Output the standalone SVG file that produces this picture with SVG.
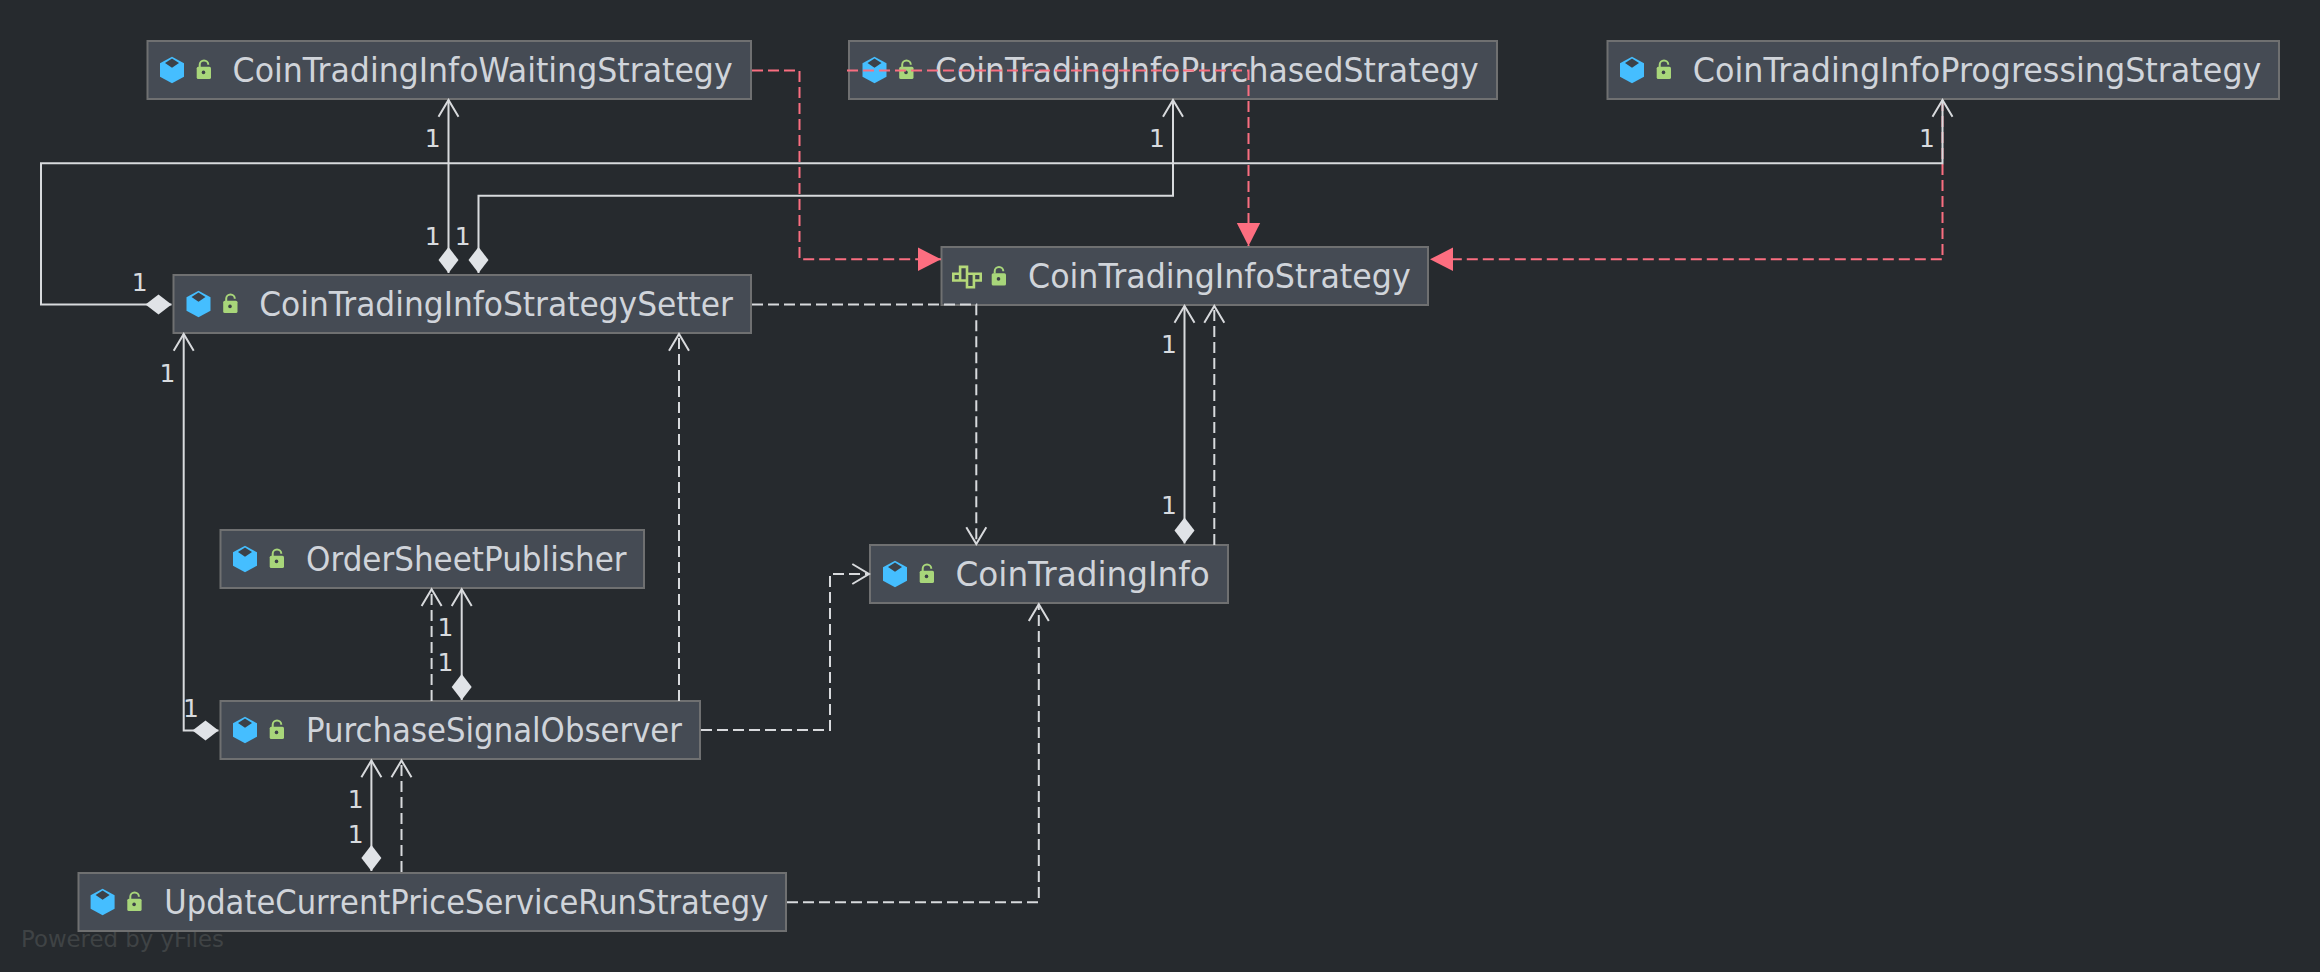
<svg xmlns="http://www.w3.org/2000/svg" width="2320" height="972" viewBox="0 0 2320 972">
<style>
.box{fill:#454b54;stroke:#6f7071;stroke-width:2}
.t{font-family:"DejaVu Sans",sans-serif;font-size:33px;fill:#d0d4da}
.m{font-family:"DejaVu Sans",sans-serif;font-size:25px;fill:#d8dbdf;text-anchor:middle}
.wm{font-family:"DejaVu Sans",sans-serif;font-size:22.5px;fill:#3f4345}
.c{fill:none;stroke-linejoin:miter}
.s{stroke:#d8dadd;stroke-width:2}
.d{stroke:#d8dadd;stroke-width:2;stroke-dasharray:11 5}
.r{stroke:#f96e80;stroke-width:2;stroke-dasharray:11 5}
</style>
<defs>
<marker id="open" markerUnits="userSpaceOnUse" markerWidth="1" markerHeight="1" orient="auto" overflow="visible"><path d="M-16.7 -10 L0 0 L-16.7 10" fill="none" stroke="#d8dadd" stroke-width="2"/></marker>
<marker id="tri" markerUnits="userSpaceOnUse" markerWidth="1" markerHeight="1" orient="auto" overflow="visible"><path d="M-23 -11.7 L0 0 L-23 11.7 Z" fill="#fd6e80"/></marker>
<marker id="dia" markerUnits="userSpaceOnUse" markerWidth="1" markerHeight="1" orient="auto" overflow="visible"><path d="M0 0 L13 -10 L26 0 L13 10 Z" fill="#e0e3e7"/></marker>
<g id="lock">
<rect x="24.7" y="-3.3" width="14.3" height="12.3" rx="1.6" fill="#a8d67a"/>
<path d="M27.7 -3 V-5.3 A4.3 4.3 0 0 1 36.3 -5.3" fill="none" stroke="#a8d67a" stroke-width="2"/>
<circle cx="31.5" cy="2.4" r="1.8" fill="#3c4148"/>
</g>
<g id="cls">
<path d="M0 -13.3 L12 -6.7 V6.7 L0 13.3 L-12 6.7 V-6.7 Z" fill="#45beff"/>
<path d="M-7 -7 L0 -11.5 L7 -7 L0 -2.3 Z" fill="#3c4148"/>
<use href="#lock"/>
</g>
<g id="ifc">
<path d="M-13.7 -2.8 H-6.9 V-9.6 H0 V-2.8 H13.7 V4 H6.9 V10.8 H0 V4 H-13.7 Z M-6.9 -2.8 V4 M0 -2.8 V4 M6.9 -2.8 V4" fill="#3f464c" stroke="#b5d97a" stroke-width="2.6"/>
<use href="#lock"/>
</g>
</defs>
<rect width="2320" height="972" fill="#262a2e"/>
<text class="wm" x="21" y="947" textLength="203" lengthAdjust="spacingAndGlyphs">Powered by yFiles</text>
<g id="nodes">
<g id="CoinTradingInfoWaitingStrategy"><rect class="box" x="147.5" y="41" width="603.5" height="58"/><use href="#cls" x="172" y="70"/><text class="t" x="232.6" y="82" textLength="500" lengthAdjust="spacingAndGlyphs">CoinTradingInfoWaitingStrategy</text></g>
<g id="CoinTradingInfoPurchasedStrategy"><rect class="box" x="849" y="41" width="648" height="58"/><use href="#cls" x="874.5" y="70"/><text class="t" x="935" y="82" textLength="543.6" lengthAdjust="spacingAndGlyphs">CoinTradingInfoPurchasedStrategy</text></g>
<g id="CoinTradingInfoProgressingStrategy"><rect class="box" x="1607.5" y="41" width="671.5" height="58"/><use href="#cls" x="1632" y="70"/><text class="t" x="1692.8" y="82" textLength="568.6" lengthAdjust="spacingAndGlyphs">CoinTradingInfoProgressingStrategy</text></g>
<g id="CoinTradingInfoStrategy"><rect class="box" x="941.5" y="247" width="486.5" height="58"/><use href="#ifc" x="967" y="276.5"/><text class="t" x="1028" y="288" textLength="382.7" lengthAdjust="spacingAndGlyphs">CoinTradingInfoStrategy</text></g>
<g id="CoinTradingInfoStrategySetter"><rect class="box" x="173.5" y="275" width="577.5" height="58"/><use href="#cls" x="198.5" y="304"/><text class="t" x="259.2" y="316" textLength="473.8" lengthAdjust="spacingAndGlyphs">CoinTradingInfoStrategySetter</text></g>
<g id="OrderSheetPublisher"><rect class="box" x="220.5" y="530" width="423.5" height="58"/><use href="#cls" x="245" y="559"/><text class="t" x="306" y="571" textLength="320.5" lengthAdjust="spacingAndGlyphs">OrderSheetPublisher</text></g>
<g id="PurchaseSignalObserver"><rect class="box" x="220.5" y="701" width="479.5" height="58"/><use href="#cls" x="245" y="730"/><text class="t" x="306" y="742" textLength="376" lengthAdjust="spacingAndGlyphs">PurchaseSignalObserver</text></g>
<g id="CoinTradingInfo"><rect class="box" x="870" y="545" width="358" height="58"/><use href="#cls" x="895" y="574"/><text class="t" x="955.5" y="586" textLength="254.3" lengthAdjust="spacingAndGlyphs">CoinTradingInfo</text></g>
<g id="UpdateCurrentPriceServiceRunStrategy"><rect class="box" x="78.5" y="873" width="707.5" height="58"/><use href="#cls" x="102.6" y="902"/><text class="t" x="164.3" y="914" textLength="604" lengthAdjust="spacingAndGlyphs">UpdateCurrentPriceServiceRunStrategy</text></g>
</g>
<g id="connectors">
<g class="c r">
<path d="M752 70.5 H799.5 V259.3 H941" marker-end="url(#tri)"/>
<path d="M847 70.5 H1248.5 V246" marker-end="url(#tri)"/>
<path d="M1942.5 100 V259.3 H1430" marker-end="url(#tri)"/>
</g>
<g class="c d">
<path d="M752 304.5 H976.3 V544" marker-end="url(#open)"/>
<path d="M1214.3 545 V306" marker-end="url(#open)"/>
<path d="M431.6 701 V589.3" marker-end="url(#open)"/>
<path d="M679 701 V334" marker-end="url(#open)"/>
<path d="M401.5 872 V760.5" marker-end="url(#open)"/>
<path d="M701 730 H830 V574 H869" marker-end="url(#open)"/>
<path d="M787 902.3 H1038.8 V604.3" marker-end="url(#open)"/>
</g>
<g class="c s">
<path d="M448.5 273 V100" marker-start="url(#dia)" marker-end="url(#open)"/>
<path d="M478.5 273 V195.7 H1173 V100" marker-start="url(#dia)" marker-end="url(#open)"/>
<path d="M171.5 304.5 H41 V163.3 H1942.5 V100" marker-start="url(#dia)" marker-end="url(#open)"/>
<path d="M218.5 730.5 H183.7 V334" marker-start="url(#dia)" marker-end="url(#open)"/>
<path d="M461.7 700 V589.3" marker-start="url(#dia)" marker-end="url(#open)"/>
<path d="M371.4 871 V760.5" marker-start="url(#dia)" marker-end="url(#open)"/>
<path d="M1184.5 543.5 V306" marker-start="url(#dia)" marker-end="url(#open)"/>
</g>
<g id="labels">
<text class="m" x="432.6" y="147">1</text>
<text class="m" x="432.6" y="245">1</text>
<text class="m" x="462.8" y="245">1</text>
<text class="m" x="139.8" y="291">1</text>
<text class="m" x="1157" y="147">1</text>
<text class="m" x="1927" y="147">1</text>
<text class="m" x="1169" y="353">1</text>
<text class="m" x="1169" y="514">1</text>
<text class="m" x="167.5" y="382">1</text>
<text class="m" x="191" y="717">1</text>
<text class="m" x="445.4" y="636">1</text>
<text class="m" x="445.4" y="671">1</text>
<text class="m" x="355.6" y="808">1</text>
<text class="m" x="355.6" y="843">1</text>
</g>
</g>
</svg>
